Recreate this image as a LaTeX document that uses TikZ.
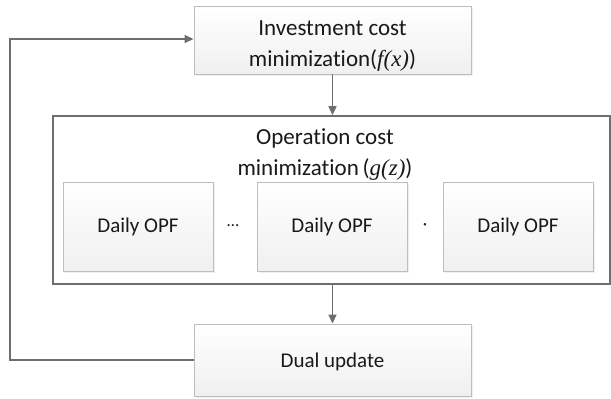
\documentclass[tikz,border=0pt]{standalone}
\usepackage{fontspec}
\setmainfont[Ligatures=NoCommon]{Carlito}
\newfontfamily\tms{Liberation Serif}
\usetikzlibrary{arrows.meta,shadows}
\definecolor{linec}{HTML}{6E6E6E}
\definecolor{boxb}{HTML}{BDBDBD}
\tikzset{
  box/.style={draw=boxb, line width=0.9pt, top color=white, bottom color=black!6,
    drop shadow={opacity=0.12, shadow xshift=1.5pt, shadow yshift=-1.5pt},
    align=center, inner sep=0pt},
  link/.style={draw=linec, line width=1.6pt},
  arr/.style={link, -{Triangle[length=9pt,width=8pt]}},
  cont/.style={draw=linec, line width=1.6pt, fill=white, inner sep=0pt},
  bigtxt/.style={font=\fontsize{23}{31}\selectfont, align=center, text=black!90},
  smtxt/.style={font=\fontsize{21}{25}\selectfont, text=black!90}
}
\begin{document}
\begin{tikzpicture}[x=1pt,y=-1pt]
\useasboundingbox (0,0) rectangle (611,399);
% container
\node[cont, minimum width=557pt, minimum height=168pt] (op) at (331.5,200) {};
\node[bigtxt] (optitle) at (325,155) {Operation cost\\minimization\,({\tms\itshape g(z)})};
% top box
\node[box, bigtxt, minimum width=277pt, minimum height=68pt] (inv) at (332.5,40)
  {\raisebox{-5pt}[\height][\depth]{\begin{tabular}{@{}c@{}}Investment cost\\minimization({\tms\itshape f(x)})\end{tabular}}};
% daily boxes
\node[box, smtxt, minimum width=150pt, minimum height=89pt] (d1) at (138,226.5) {Daily OPF};
\node[box, smtxt, minimum width=150pt, minimum height=89pt] (d2) at (332,226.5) {Daily OPF};
\node[box, smtxt, minimum width=150pt, minimum height=89pt] (d3) at (518,226.5) {Daily OPF};
\node[smtxt] (dots) at (233,226) {\fontsize{17}{17}\selectfont …};
\node[smtxt] (dot) at (425,227) {\fontsize{17}{17}\selectfont ·};
% dual box
\node[box, smtxt, minimum width=277pt, minimum height=72pt] (dual) at (332.5,360)
  {\raisebox{-2pt}[\height][\depth]{Dual update}};
% connectors
\coordinate (c1) at (10,360);
\coordinate (c2) at (10,39);
\draw[arr] (inv.south) -- (op.north -| inv.south);
\draw[arr] (op.south -| dual.north) -- (dual.north);
\draw[arr] (dual.west) -- (c1) -- (c2) -- (inv.west |- c2);
\end{tikzpicture}
\end{document}
